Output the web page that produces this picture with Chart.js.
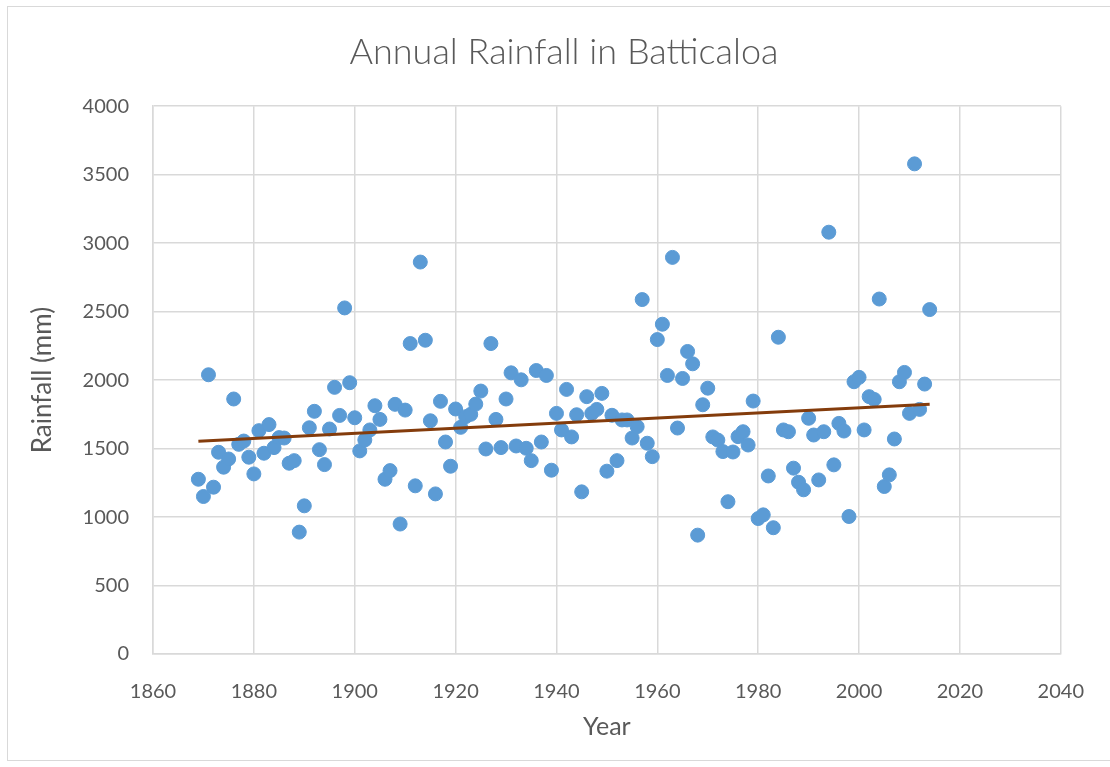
<!DOCTYPE html>
<html>
<head>
<meta charset="utf-8">
<script src="https://cdn.jsdelivr.net/npm/chart.js@4"></script>
<style>
  body { margin: 0; background: #fff; }
  #wrap { position: relative; width: 1110px; height: 767px; overflow: hidden; }
  #frame {
    position: absolute; left: 7px; top: 6px; width: 1120px; height: 755px;
    border: 1.5px solid #d9d9d9; box-sizing: border-box;
  }
  canvas { position: absolute; left: 0; top: 0; }
</style>
</head>
<body>
<div id="wrap">
  <div id="frame"></div>
  <canvas id="myChart" width="1110" height="767"></canvas>
</div>
<script>
const years = [];
for (let y = 1869; y <= 2014; y++) years.push(y);

const rainfall = [
  1276, 1150, 2039, 1218, 1473, 1364, 1424, 1862, 1531, 1555,
  1437, 1315, 1631, 1466, 1675, 1507, 1580, 1577, 1393, 1412,
  890, 1082, 1652, 1772, 1492, 1383, 1643, 1947, 1742, 2527,
  1981, 1725, 1483, 1563, 1636, 1813, 1713, 1276, 1339, 1823,
  949, 1781, 2267, 1228, 2862, 2291, 1703, 1169, 1845, 1548,
  1371, 1789, 1655, 1733, 1750, 1825, 1920, 1497, 2267, 1713,
  1507, 1862, 2053, 1519, 2002, 1502, 1412, 2070, 1548, 2034,
  1342, 1757, 1636, 1932, 1585, 1747, 1184, 1879, 1757, 1786,
  1903, 1335, 1743, 1412, 1709, 1709, 1577, 1660, 2588, 1539,
  1441, 2296, 2408, 2034, 2896, 1650, 2012, 2209, 2119, 868,
  1820, 1941, 1585, 1562, 1478, 1112, 1475, 1587, 1623, 1526,
  1847, 989, 1016, 1300, 922, 2313, 1636, 1623, 1357, 1254,
  1199, 1721, 1599, 1271, 1623, 3080, 1381, 1684, 1628, 1004,
  1988, 2020, 1636, 1879, 1859, 2592, 1223, 1308, 1570, 1988,
  2056, 1757, 3579, 1786, 1971, 2515
];

// linear trendline end points
const trendYears = [1869, 2014];
const trendValues = [1553, 1823];

const xTicks = [1860, 1880, 1900, 1920, 1940, 1960, 1980, 2000, 2020, 2040];
const yTicks = [0, 500, 1000, 1500, 2000, 2500, 3000, 3500, 4000];

const textColor = "#595959";
const gridColor = "#d9d9d9";
const fontFamily = "Lato, 'Open Sans', sans-serif";

const ctx = document.getElementById("myChart").getContext("2d");

new Chart(ctx, {
  type: "scatter",
  data: {
    datasets: [
      {
        type: "line",
        label: "Trend",
        data: trendYears.map((y, i) => ({ x: y, y: trendValues[i] })),
        borderColor: "#843c0c",
        borderWidth: 3,
        pointRadius: 0,
        fill: false,
        order: 0,
      },
      {
        label: "Rainfall",
        data: years.map((y, i) => ({ x: y, y: rainfall[i] })),
        backgroundColor: "#5b9bd5",
        borderColor: "#5b9bd5",
        borderWidth: 1,
        pointRadius: 7,
        order: 1,
      },
    ],
  },
  options: {
    responsive: false,
    animation: false,
    // left padding pushes the title centre right, as in the original
    layout: { padding: { left: 60, right: 42, top: 0, bottom: 0 } },
    plugins: {
      legend: { display: false },
      tooltip: { enabled: false },
      title: {
        display: true,
        text: "Annual Rainfall in Batticaloa",
        color: textColor,
        font: { family: fontFamily, size: 36, weight: 300 },
        padding: { top: 31, bottom: 32 },
      },
    },
    scales: {
      x: {
        type: "linear",
        min: 1860,
        max: 2040,
        afterBuildTicks: (scale) => {
          scale.ticks = xTicks.map((v) => ({ value: v }));
        },
        afterFit: (scale) => {
          scale.height = 113;
        },
        grid: { color: gridColor, lineWidth: 1.5, drawTicks: false },
        border: { color: gridColor, width: 1.5 },
        ticks: {
          color: textColor,
          padding: 26,
          font: { family: fontFamily, size: 20 },
          callback: (v) => String(v),
        },
        title: {
          display: true,
          text: "Year",
          color: textColor,
          font: { family: fontFamily, size: 25 },
          padding: { top: 0, bottom: 25 },
        },
      },
      y: {
        min: 0,
        max: 4000,
        afterBuildTicks: (scale) => {
          scale.ticks = yTicks.map((v) => ({ value: v }));
        },
        afterFit: (scale) => {
          scale.width = 93;
        },
        grid: { color: gridColor, lineWidth: 1.5, drawTicks: false },
        border: { color: gridColor, width: 1.5 },
        ticks: {
          color: textColor,
          padding: 24,
          font: { family: fontFamily, size: 20 },
          callback: (v) => String(v),
        },
        title: {
          display: true,
          text: "Rainfall (mm)",
          color: textColor,
          font: { family: fontFamily, size: 26 },
          padding: { top: -33, bottom: 0 },
        },
      },
    },
  },
});
</script>
</body>
</html>
